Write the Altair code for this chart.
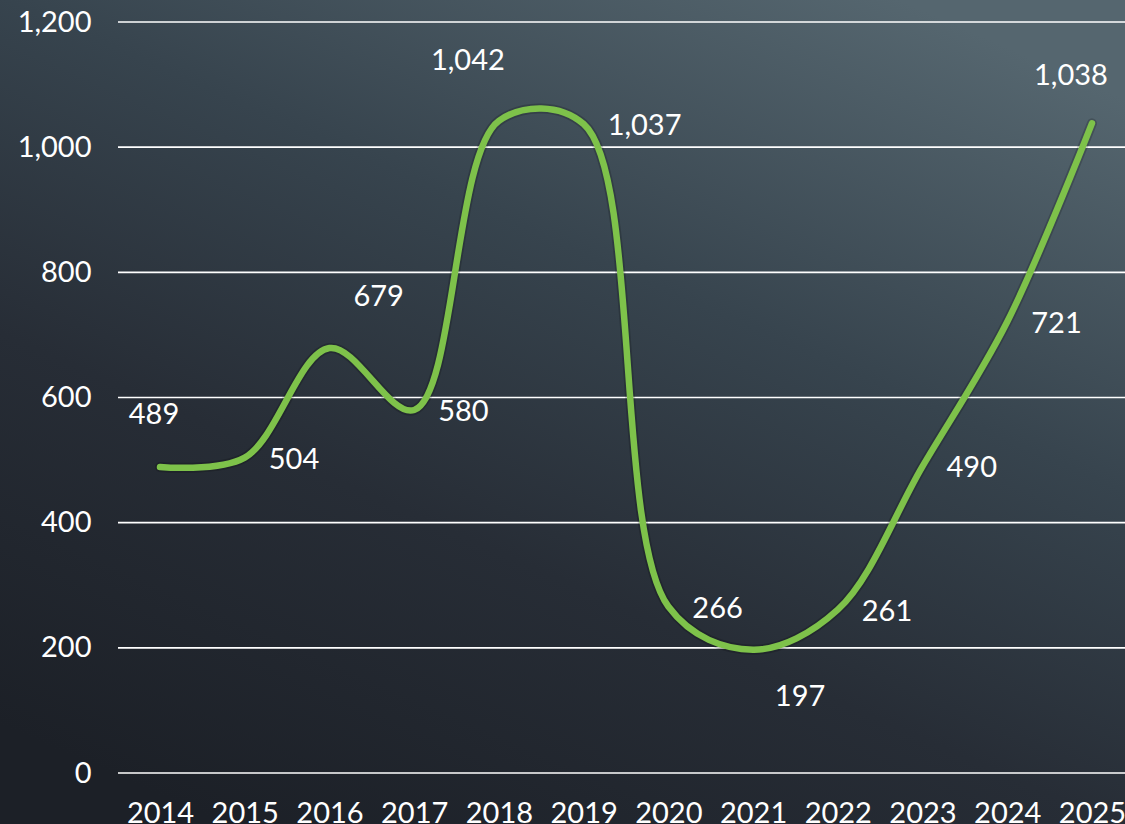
import altair as alt
import pandas as pd

# ---- data ----
years = [2014, 2015, 2016, 2017, 2018, 2019, 2020, 2021, 2022, 2023, 2024, 2025]
values = [489, 504, 679, 580, 1042, 1037, 266, 197, 261, 490, 721, 1038]
y_ticks = [0, 200, 400, 600, 800, 1000, 1200]

df = pd.DataFrame({"year": years, "value": values})
grid_df = pd.DataFrame({"value": y_ticks})

# ---- layout / style ----
W, H = 1007, 751
PAD = {"left": 118, "top": 22, "right": 0, "bottom": 51}
FONT = "Lato"
FS = 29
GREEN = "#7ec24a"

x_scale = alt.Scale(domain=[2013.504, 2025.39], nice=False, zero=False)
y_scale = alt.Scale(domain=[0, 1200], nice=False, zero=True)

gradient = alt.LinearGradient(
    gradient="linear",
    x1=0.2, y1=1, x2=0.8, y2=0,
    stops=[
        alt.GradientStop(color="#1c2027", offset=0),
        alt.GradientStop(color="#272d36", offset=0.35),
        alt.GradientStop(color="#37444e", offset=0.65),
        alt.GradientStop(color="#55666f", offset=1),
    ],
)

bg = alt.Chart(alt.Data(values=[{"a": 1}])).mark_rect(fill=gradient).encode(
    x=alt.value(-PAD["left"]),
    x2=alt.value(W + PAD["right"]),
    y=alt.value(-PAD["top"]),
    y2=alt.value(H + PAD["bottom"]),
)

x_axis = alt.Axis(
    values=years, format="d", grid=False, domain=False, ticks=False,
    labelFont=FONT, labelFontSize=FS, labelColor="white", labelPadding=26,
    labelOverlap=False, labelFlush=False, labelBound=False, title=None, zindex=1,
)
y_axis = alt.Axis(
    values=y_ticks, format=",.0f", grid=False, domain=False, ticks=False,
    labelFont=FONT, labelFontSize=FS, labelColor="white", labelPadding=27,
    labelOverlap=False, labelFlush=False, labelBound=False, title=None, zindex=1,
)

grid = alt.Chart(grid_df).mark_rule(color="white", strokeWidth=1.6).encode(
    y=alt.Y("value:Q", scale=y_scale, axis=y_axis),
    x=alt.value(0),
    x2=alt.value(W),
)

shadow = alt.Chart(df).mark_line(
    interpolate="catmull-rom", color="#000000", opacity=0.18, strokeWidth=10,
    strokeCap="round", strokeJoin="round",
).encode(
    x=alt.X("year:Q", scale=x_scale, axis=x_axis),
    y=alt.Y("value:Q", scale=y_scale, axis=y_axis),
)

line = alt.Chart(df).mark_line(
    interpolate="catmull-rom", color=GREEN, strokeWidth=6.5,
    strokeCap="round", strokeJoin="round",
).encode(
    x=alt.X("year:Q", scale=x_scale, axis=x_axis),
    y=alt.Y("value:Q", scale=y_scale, axis=y_axis),
)

# label placements (style): year -> (align, dx, dy)
manual = {
    2014: ("center", -6, -52),
    2016: ("left", 24, -51),
    2018: ("center", -31, -60),
    2021: ("center", 47, 47),
    2025: ("center", -21, -47),
}

def label_layer(sel, align, dx, dy):
    return alt.Chart(df).transform_filter(
        alt.FieldOneOfPredicate(field="year", oneOf=sel)
    ).mark_text(
        font=FONT, fontSize=FS, color="white", align=align, baseline="middle",
        dx=dx, dy=dy,
    ).encode(
        x=alt.X("year:Q", scale=x_scale, axis=x_axis),
        y=alt.Y("value:Q", scale=y_scale, axis=y_axis),
        text=alt.Text("value:Q", format=",.0f"),
    )

default_years = [y for y in years if y not in manual]
labels = [label_layer(default_years, "left", 24, 2)]
for yr, (al, dx, dy) in manual.items():
    labels.append(label_layer([yr], al, dx, dy))

chart = alt.layer(bg, grid, shadow, line, *labels).properties(
    width=W, height=H,
    autosize=alt.AutoSizeParams(type="none"),
    padding=PAD,
    background="#2e3740",
).configure_view(strokeWidth=0)

chart.save("out.html", embed_options={"renderer": "svg", "actions": False})
